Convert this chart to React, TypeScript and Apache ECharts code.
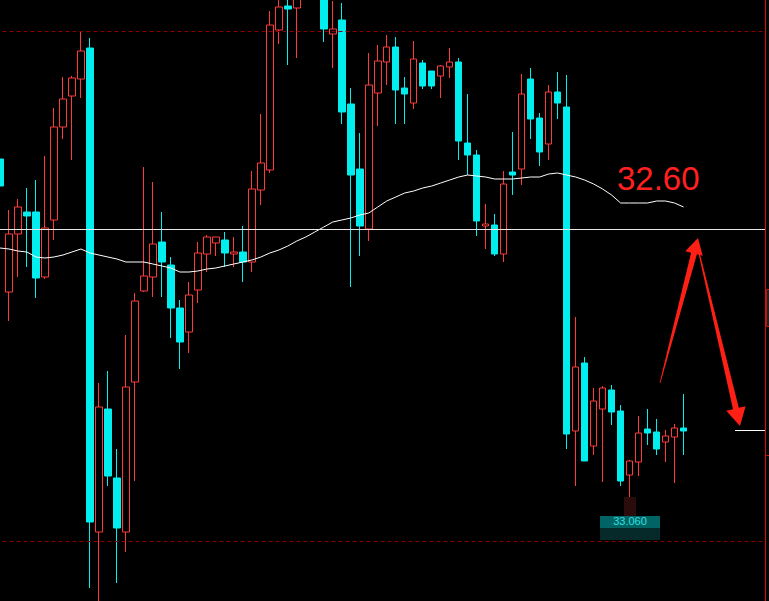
import React, { useEffect, useRef } from "react";
import * as echarts from "echarts";

// Candle values (price), index 0 is the partially visible first candle
const openP = [
  33.41, 32.08, 32.66, 32.88, 32.88, 32.23, 32.80, 33.73, 34.04, 34.21,
  34.52, 29.68, 30.91, 30.22, 29.68, 31.18, 32.09, 32.23, 32.58, 32.35,
  31.92, 31.68, 32.10, 32.46, 32.57, 32.60, 32.46, 32.48, 32.38, 33.10,
  33.30, 34.70, 34.94, 34.92, 35.20, 35.50, 35.20, 34.66, 34.80, 33.96,
  33.31, 32.71, 34.07, 34.38, 34.53, 34.12, 33.97, 34.37, 34.29, 34.24,
  34.33, 34.38, 33.57, 33.45, 32.74, 32.75, 32.46, 33.28, 33.31, 34.21,
  33.82, 33.56, 34.08, 33.93, 30.69, 31.37, 30.54, 30.91, 31.10, 30.89,
  30.25, 30.38, 30.71, 30.68, 30.58, 30.63, 30.72,
];
const closeP = [
  33.14, 32.66, 32.93, 32.84, 32.22, 32.72, 33.73, 34.01, 34.22, 34.49,
  29.78, 30.93, 30.24, 29.72, 31.13, 31.99, 32.24, 32.56, 32.38, 31.92,
  31.58, 32.05, 32.47, 32.63, 32.63, 32.47, 32.48, 32.38, 33.11, 33.37,
  34.75, 34.93, 34.91, 35.10, 35.60, 35.15, 34.71, 34.71, 33.88, 33.25,
  32.74, 34.15, 34.39, 34.53, 34.10, 34.06, 34.41, 34.14, 34.14, 34.34,
  34.38, 33.59, 33.45, 32.79, 32.76, 32.46, 33.16, 33.25, 34.06, 33.81,
  33.48, 34.08, 33.97, 30.66, 31.33, 30.39, 30.99, 31.12, 30.88, 30.19,
  30.39, 30.67, 30.67, 30.51, 30.64, 30.72, 30.69,
];
const lowP = [
  33.10, 31.79, 32.23, 32.33, 32.02, 32.21, 32.60, 33.61, 33.40, 34.02,
  29.12, 28.90, 30.14, 29.17, 29.48, 30.19, 32.08, 32.03, 32.03, 31.62,
  31.31, 31.47, 31.97, 32.28, 32.44, 32.33, 32.33, 32.18, 32.28, 32.95,
  33.27, 34.56, 34.35, 34.42, 35.05, 35.05, 34.58, 34.32, 33.76, 32.13,
  32.44, 32.59, 33.74, 34.15, 33.76, 33.76, 33.91, 34.11, 34.11, 34.02,
  34.22, 33.40, 33.25, 32.64, 32.51, 32.44, 32.38, 33.05, 33.15, 33.61,
  33.34, 33.40, 33.81, 30.51, 30.14, 30.39, 30.45, 30.18, 30.75, 30.14,
  30.03, 30.24, 30.55, 30.45, 30.38, 30.17, 30.45,
];
const highP = [
  33.41, 32.90, 33.01, 33.12, 33.20, 33.44, 33.92, 34.23, 34.24, 34.69,
  34.62, 31.17, 31.29, 30.51, 31.65, 32.07, 33.33, 33.18, 32.88, 32.43,
  32.00, 32.18, 32.58, 32.65, 32.63, 32.68, 32.63, 32.74, 33.29, 33.86,
  34.89, 35.05, 35.10, 35.20, 35.80, 35.70, 35.30, 34.99, 34.97, 34.12,
  33.67, 34.47, 34.55, 34.65, 34.63, 34.23, 34.59, 34.40, 34.29, 34.35,
  34.52, 34.42, 34.06, 33.50, 32.96, 32.86, 33.29, 33.68, 34.26, 34.32,
  33.87, 34.15, 34.28, 34.25, 31.83, 31.43, 31.12, 31.14, 31.15, 30.95,
  30.40, 30.84, 30.91, 30.81, 30.70, 30.76, 31.06,
];
const maP = [
  32.52, 32.51, 32.49, 32.48, 32.43, 32.42, 32.43, 32.45, 32.48, 32.51,
  32.47, 32.45, 32.43, 32.41, 32.38, 32.38, 32.38, 32.36, 32.34, 32.32,
  32.28, 32.28, 32.29, 32.31, 32.32, 32.34, 32.36, 32.38, 32.40, 32.43,
  32.47, 32.50, 32.54, 32.59, 32.63, 32.68, 32.73, 32.78, 32.80, 32.82,
  32.85, 32.87, 32.93, 32.99, 33.03, 33.07, 33.09, 33.12, 33.14, 33.17,
  33.20, 33.23, 33.25, 33.24, 33.23, 33.21, 33.21, 33.21, 33.22, 33.23,
  33.23, 33.26, 33.27, 33.25, 33.23, 33.20, 33.16, 33.11, 33.05, 32.97,
  32.97, 32.97, 32.97, 32.99, 32.99, 32.97, 32.93,
];
const totalSlots = 86;
const refLine = 32.71;
const dashedLevels = [34.69, 29.59];
const priceLabel = "32.60";
const boxLabel = "33.060";

const RED = "#ff3a3a";
const CYAN = "#00eeee";
const SHIFT = 5; // chart div starts 5px left of the page edge

export default function App() {
  const ref = useRef<HTMLDivElement>(null);
  useEffect(() => {
    if (!ref.current) return;
    const chart = echarts.init(ref.current, undefined, { renderer: "svg" });
    const cats = Array.from({ length: totalSlots }, (_, i) => String(i));
    const kData = openP.map((o, i) => [o, closeP[i], lowP[i], highP[i]]);
    const arrowRed = "#ff2015";
    const Z = 100;
    chart.setOption({
      animation: false,
      backgroundColor: "#000000",
      grid: { left: 0.5, top: 0, width: 774, height: 601 },
      xAxis: {
        type: "category",
        data: cats,
        boundaryGap: true,
        show: false,
      },
      yAxis: {
        type: "value",
        min: 28.99,
        max: 35.0,
        show: false,
        splitLine: { show: false },
      },
      series: [
        {
          type: "candlestick",
          data: kData,
          barWidth: 7,
          clip: true,
          itemStyle: {
            color: "#000000",
            color0: CYAN,
            borderColor: RED,
            borderColor0: CYAN,
            borderWidth: 1,
          },
          markLine: {
            silent: true,
            symbol: ["none", "none"],
            label: { show: false },
            data: [
              { yAxis: refLine, lineStyle: { color: "#e8e8e8", width: 1, type: "solid" } },
              ...dashedLevels.map((v) => ({
                yAxis: v,
                lineStyle: { color: "#8a0000", width: 1, type: [4, 3] },
              })),
            ],
          },
        },
        {
          type: "line",
          data: maP,
          symbol: "none",
          clip: true,
          lineStyle: { color: "#ffffff", width: 1 },
          z: 3,
        },
      ],
      graphic: [
        {
          type: "group",
          x: SHIFT,
          y: 0,
          z: Z,
          children: [
            {
              type: "rect",
              z: Z,
              shape: { x: 766, y: 0, width: 10, height: 601 },
              style: { fill: "#050505" },
            },
            {
              type: "line",
              z: Z,
              shape: { x1: 765.5, y1: 0, x2: 765.5, y2: 601 },
              style: { stroke: "#d01010", lineWidth: 1 },
            },
            {
              type: "rect",
              z: Z,
              shape: { x: 766.5, y: 289.5, width: 6, height: 37 },
              style: { fill: "#202020", stroke: "#c01010", lineWidth: 1 },
            },
            {
              type: "line",
              z: Z,
              shape: { x1: 766, y1: 455.5, x2: 772, y2: 455.5 },
              style: { stroke: "#c01010", lineWidth: 1 },
            },
            {
              type: "line",
              z: Z,
              shape: { x1: 735, y1: 430.5, x2: 765, y2: 430.5 },
              style: { stroke: "#ffffff", lineWidth: 1 },
            },
            {
              type: "polygon",
              z: Z,
              shape: {
                points: [
                  [659.6, 382.9], [691.1, 252.7], [685.3, 251.2], [698, 238],
                  [702.7, 255.8], [696.9, 254.3], [660.4, 383.1],
                ],
              },
              style: { fill: arrowRed },
            },
            {
              type: "polygon",
              z: Z,
              shape: {
                points: [
                  [695.6, 240.1], [733.0, 409.2], [726.2, 410.8], [740, 426],
                  [745.6, 406.2], [738.8, 407.8], [696.4, 239.9],
                ],
              },
              style: { fill: arrowRed },
            },
            {
              type: "text",
              z: Z,
              x: 617,
              y: 178,
              style: {
                text: priceLabel,
                fill: "#ff2020",
                font: "33px 'Liberation Sans', Arial, sans-serif",
                textAlign: "left",
                textVerticalAlign: "middle",
              },
            },
            {
              type: "rect",
              z: Z,
              shape: { x: 624, y: 497, width: 12, height: 19 },
              style: { fill: "#2a0c0c" },
            },
            {
              type: "rect",
              z: Z,
              shape: { x: 600, y: 516, width: 60, height: 12 },
              style: { fill: "#006464" },
            },
            {
              type: "rect",
              z: Z,
              shape: { x: 600, y: 528, width: 60, height: 12 },
              style: { fill: "#062a2a" },
            },
            {
              type: "text",
              z: Z,
              x: 630,
              y: 521,
              style: {
                text: boxLabel,
                fill: "#30e0e0",
                font: "11px 'Liberation Sans', Arial, sans-serif",
                textAlign: "center",
                textVerticalAlign: "middle",
              },
            },
          ],
        },
      ],
    });
    return () => chart.dispose();
  }, []);
  return (
    <div
      ref={ref}
      style={{ position: "fixed", left: -SHIFT, top: 0, width: 769 + SHIFT, height: 601 }}
    />
  );
}
